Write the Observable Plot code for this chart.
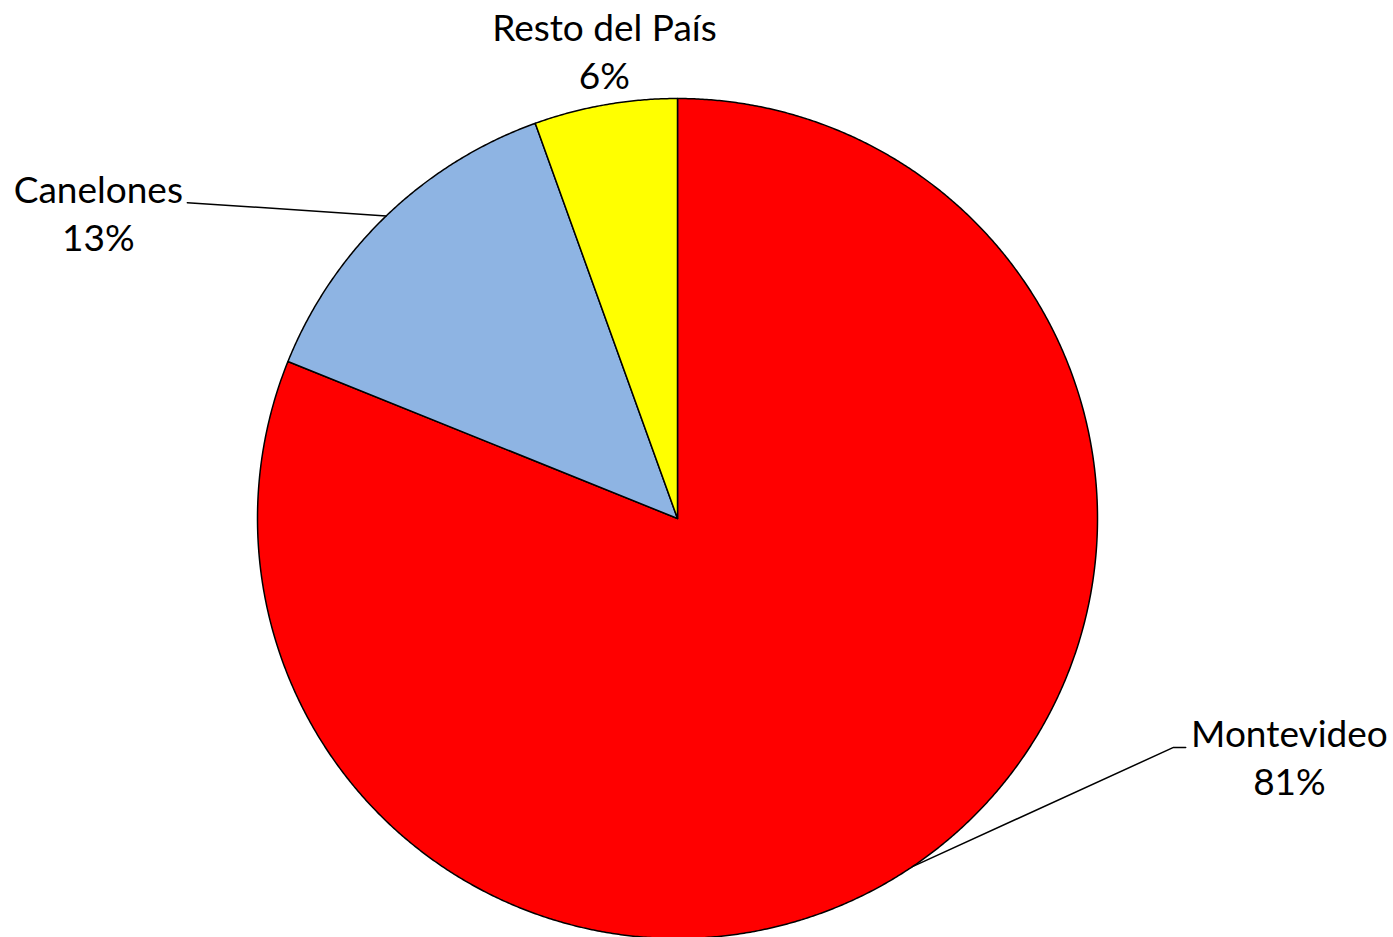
<!DOCTYPE html>
<html>
<head>
<meta charset="utf-8">
<script src="https://cdn.jsdelivr.net/npm/d3@7"></script>
<script src="https://cdn.jsdelivr.net/npm/@observablehq/plot@0.6"></script>
<style>
  html, body { margin: 0; padding: 0; background: #fff; }
  #chart svg { display: block; }
</style>
</head>
<body>
<div id="chart"></div>
<script>
// ---- Data ----
const categories = ["Montevideo", "Canelones", "Resto del País"];
const shares = [81.1, 13.4, 5.5];          // percent of total
const colors = ["#FF0000", "#8EB4E3", "#FFFF00"];

// ---- Label layout (in pie-radius units, center = 0,0, y up) ----
const labelLayout = {
  "Montevideo":     {x: 1.457, y: -0.545, elbow: [1.181, 1.210]},
  "Canelones":      {x: -1.379, y: 0.752, elbow: [-1.167, -1.167]},
  "Resto del País": {x: -0.174, y: 1.138, elbow: null}
};
const lineGap = 48 / 420;

// ---- Build slices with d3.pie (clockwise from 12 o'clock) ----
const pie = d3.pie().sort(null).value(d => d.value);
const arcs = pie(categories.map((c, i) => ({name: c, value: shares[i], color: colors[i]})));

const slicePts = [];
arcs.forEach(a => {
  const n = Math.max(4, Math.ceil((a.endAngle - a.startAngle) / 0.005));
  slicePts.push({name: a.data.name, x: 0, y: 0});
  for (let k = 0; k <= n; k++) {
    const t = a.startAngle + (a.endAngle - a.startAngle) * k / n;
    slicePts.push({name: a.data.name, x: Math.sin(t), y: Math.cos(t)});
  }
  slicePts.push({name: a.data.name, x: 0, y: 0});
});

// leader lines from slice mid-angle on the rim to the label
const leaderPts = [];
arcs.forEach(a => {
  const L = labelLayout[a.data.name];
  if (!L.elbow) return;
  const m = (a.startAngle + a.endAngle) / 2;
  leaderPts.push({name: a.data.name, x: Math.sin(m), y: Math.cos(m)});
  leaderPts.push({name: a.data.name, x: L.elbow[0], y: L.y});
  leaderPts.push({name: a.data.name, x: L.elbow[1], y: L.y});
});

const labels = arcs.map(a => ({
  name: a.data.name,
  pct: Math.round(a.data.value) + "%",
  x: labelLayout[a.data.name].x,
  y: labelLayout[a.data.name].y
}));

const sliceMarks = arcs.map(a =>
  Plot.line(slicePts.filter(p => p.name === a.data.name), {
    x: "x", y: "y", fill: a.data.color, stroke: "#000", strokeWidth: 1.5, strokeLinejoin: "round"
  })
);

const chart = Plot.plot({
  width: 1393,
  height: 937,
  marginLeft: 257,
  marginRight: 296,
  marginTop: 98,
  marginBottom: -1,
  x: {domain: [-1, 1], axis: null},
  y: {domain: [-1, 1], axis: null},
  style: {fontFamily: "Lato, sans-serif", background: "#fff", overflow: "visible"},
  marks: [
    ...sliceMarks,
    Plot.line(leaderPts, {x: "x", y: "y", z: "name", stroke: "#000", strokeWidth: 1.5}),
    Plot.text(labels, {x: "x", y: "y", text: "name", fontSize: 37, lineAnchor: "bottom", textAnchor: "middle", fill: "#000"}),
    Plot.text(labels, {x: "x", y: d => d.y - lineGap, text: "pct", fontSize: 37, lineAnchor: "bottom", textAnchor: "middle", fill: "#000"})
  ]
});
document.getElementById("chart").appendChild(chart);
</script>
</body>
</html>
